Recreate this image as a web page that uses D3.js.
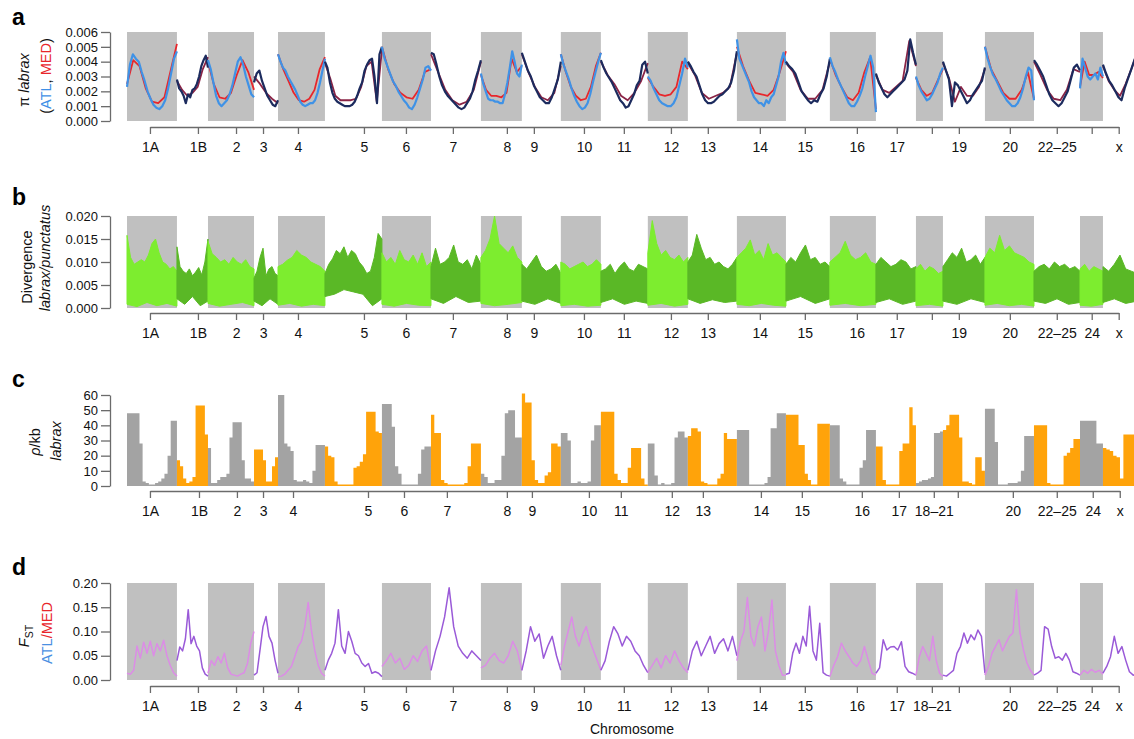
<!DOCTYPE html>
<html>
<head>
<meta charset="utf-8">
<script src="https://cdn.jsdelivr.net/npm/d3@7"></script>
<style>
  body { margin: 0; background: #fff; }
</style>
</head>
<body>
<div id="chart"></div>
<script>
// chromosomes in genome order, lengths in Mb (estimated)
const chroms = ["1A","1B","2","3","4","5","6","7","8","9","10","11","12","13","14","15","16","17","18–21","19","20","22–25","24","x"];
const chromLen = [33.3,20.7,30.7,16.0,31.3,38.0,32.7,33.3,27.3,26.0,26.7,31.3,26.7,32.7,32.7,29.3,30.7,26.7,18.0,28.0,32.7,30.7,15.3,22.7];

// tick positions along the genome (Mb) and labels
const ticksABD = [15.3,47.3,72.7,90.7,114.0,158.0,186.0,217.3,253.3,271.3,304.7,331.3,362.7,387.3,422.0,452.0,486.7,513.3,536.7,554.7,588.7,620.0,643.3,661.3];
const ticksC = [15.3,48.0,73.3,90.7,110.7,160.7,184.7,213.3,253.3,270.0,308.0,329.3,363.3,384.0,422.7,450.0,490.0,514.7,538.0,554.0,590.7,620.0,644.0,662.0];
const labelsA = ["1A","1B","2","3","4","5","6","7","8","9","10","11","12","13","14","15","16","17","","19","20","22–25","","x"];
const labelsB = ["1A","1B","2","3","4","5","6","7","8","9","10","11","12","13","14","15","16","17","","19","20","22–25","24","x"];
const labelsCD = ["1A","1B","2","3","4","5","6","7","8","9","10","11","12","13","14","15","16","17","18–21","","20","22–25","24","x"];

// a: nucleotide diversity, units of 1e-4, one list per chromosome
const piATL = [
  [23,38,45,42,40,33,27,20,15,11,9,8,10,14,22,32,42,47],
  [28,22,20,17,12,18,16,21,22,25,30,37,41,44,36],
  [41,35,26,17,12,10,12,14,18,24,32,40,43,38,30,24,18,16],
  [26,32,34,27,22,17,14,11,10,14],
  [45,40,36,34,30,27,24,21,17,13,11,10,11,12,12,14,19,26,34,42],
  [40,36,26,19,15,13,12,11,10,10,10,11,13,17,22,26,34,38,41,42,30,12,45,50],
  [50,42,37,32,27,24,20,17,14,12,9,8,11,16,22,28,36,37,34],
  [46,45,38,30,24,20,17,15,13,11,9,8,9,12,15,20,28,34,41],
  [32,25,20,15,14,14,13,13,12,12,18,26,36,47,40,32,30,38],
  [46,40,34,30,24,20,16,14,12,12,16,22,28,40],
  [45,38,33,28,22,17,13,10,8,9,12,18,26,33,40,46],
  [41,36,32,29,26,22,18,14,12,9,10,14,18,24,27,38,40,32],
  [30,27,22,18,14,12,11,10,10,12,16,24,32,42,36],
  [40,37,33,30,24,18,14,12,12,13,15,17,18,20,22,26,34,47],
  [55,42,38,34,30,26,20,16,14,12,12,10,14,12,16,18,24,30,40,46,38],
  [40,37,35,32,26,20,17,14,12,14,13,18,22,30,42],
  [43,37,33,28,24,20,16,12,10,10,13,17,22,30,37,44,36,6],
  [32,26,22,18,16,18,20,22,24,26,28,34,55,46,38],
  [30,24,20,17,14,15,18,22,26,32,36],
  [40,34,28,10,26,24,20,16,12,14,18,21,24,27,36],
  [50,42,36,31,28,24,20,17,14,12,10,10,12,16,22,30,36,34,14],
  [41,38,34,30,24,18,14,12,10,12,16,20,28,36,38,34],
  [22,42,36,30,28,30,32,28,36,30],
  [38,32,27,24,20,16,14,22,28,34,40,46]
];
const piMED = [
  [25,41,37,22,13,12,16,34,52],
  [27,21,17,19,23,35,43],
  [40,25,16,15,19,31,41,33,21],
  [30,25,19,15,12],
  [45,35,27,19,14,13,15,21,35,43],
  [39,29,17,14,14,14,15,23,37,40,13,48],
  [50,35,25,19,16,15,21,33,35],
  [45,33,21,14,11,13,21,40],
  [31,21,17,17,16,19,42,33,37],
  [45,33,23,16,14,19,37],
  [45,33,23,17,14,15,23,37,46],
  [40,31,25,17,14,19,27,39],
  [29,23,18,17,18,23,40,35],
  [39,31,19,15,17,19,23,46],
  [50,37,27,19,18,17,21,33,47],
  [39,33,21,15,15,21,40],
  [42,31,23,16,14,19,33,43,8],
  [31,21,19,23,27,54,37],
  [29,21,17,19,27,35],
  [39,29,13,23,17,17,23,35],
  [50,35,27,19,15,15,21,33,15],
  [40,31,21,15,14,21,35,33],
  [23,40,31,31,33,29],
  [37,27,21,17,25,35,46]
];

// b: divergence labrax/punctatus, upper and lower envelope, units of 1e-4
const divHigh = [
  [158,110,95,100,105,100,115,140,150,120,100,95,85,90,80],
  [133,90,80,75,85,70,78,88,72,100,150],
  [145,118,110,100,105,95,110,100,95,105,90,85],
  [65,80,110,130,70,85,90,75,70],
  [90,95,104,110,125,115,110,100,95,90,80],
  [75,95,107,125,118,133,110,125,118,100,90,75,80,110,162,150],
  [120,100,110,95,125,105,100,115,95,120,90,100],
  [90,130,95,100,110,137,100,95,105,85,115,95],
  [110,125,150,200,140,130,120,135,110,100],
  [95,85,100,115,90,80,85,95,75],
  [100,95,85,90,95,100,90,95,105,95],
  [80,85,95,75,90,100,85,80,95,90,85],
  [120,190,140,115,125,110,105,115,100,110],
  [100,115,160,130,105,110,95,100,90,85,95,110],
  [110,120,130,148,115,125,105,140,115,120,110,100],
  [95,110,100,120,137,105,110,95,100,90],
  [100,110,120,145,115,105,110,120,100,95],
  [95,110,100,90,95,105,100,85,90],
  [85,95,80,90,85,75,80],
  [90,105,120,110,130,100,105,115,95,110],
  [110,130,120,158,125,135,120,115,110,100,95],
  [80,90,95,85,100,90,95,85,90,80],
  [85,95,80,90,85,80],
  [90,80,95,115,85,80,75]
];
const divLow = [
  [8,3,12,5,10,4],[20,8,25,5,15],[10,4,8,12,5],[15,5,20,8],[6,10,4,8,5],
  [25,30,40,35,30,5,20],[8,4,10,6,5],[20,10,25,12,15],[10,5,8,12],[15,8,20,10],
  [5,8,4,6],[12,20,8,15,10],[6,10,4,8],[20,10,18,12,15],[8,5,10,6,4],
  [15,25,10,20],[6,10,5,8],[12,20,8,15],[5,8,4],[15,8,20,12],
  [6,10,5,8,4],[15,10,20,8,12],[6,4,8],[12,20,10,15]
];

// c: recombination rate rho/kb, equal-width steps per chromosome
const rhoKb = [
  [48,48,48,48,28,3,2,1,1,2,3,5,8,20,43,43],
  [17,13,5,2,3,6,53,53,53,34],
  [25,2,2,4,6,6,8,32,42,42,42,17,5,5,3],
  [24,24,24,17,3,3,13,19],
  [60,60,28,26,23,4,3,3,4,3,2,10,27,27,27],
  [26,20,19,3,1,1,1,1,1,12,13,16,21,49,49,49,36,35],
  [54,54,54,39,13,8,1,1,1,1,1,8,24,26,26],
  [47,35,35,4,2,1,1,1,1,1,2,13,28,28,28],
  [8,6,2,2,4,4,20,48,50,50,32,32],
  [61,55,55,17,4,2,2,7,9,28,28,26],
  [35,35,30,2,2,3,2,2,3,30,40,40],
  [49,49,49,49,8,4,2,2,12,25,25,25,5,1],
  [28,28,7,1,2,1,1,2,32,36,36,32],
  [33,38,38,36,3,2,1,1,1,5,8,35,31,31,31],
  [37,37,37,37,1,1,1,1,1,2,6,38,38,48,48,48],
  [47,47,47,47,27,27,8,4,1,1,41,41,41,41],
  [40,40,40,5,3,1,1,1,1,12,17,37,37,37],
  [26,26,4,1,1,1,1,23,28,28,52,40],
  [2,3,4,4,5,6,35,35,36],
  [37,40,47,47,47,32,3,3,2,1,19,19,10],
  [51,51,51,29,1,1,1,2,2,2,3,10,33,33,33],
  [40,40,40,40,2,1,1,1,1,20,22,25,31,31],
  [43,43,43,43,43,28,28],
  [25,24,23,20,19,5,34,34,34,34]
];

// d: FST ATL/MED, units of 1e-3
const fst = [
  [14,12,20,70,45,78,55,80,50,75,60,82,50,30,15,8],
  [40,68,60,85,145,75,90,70,60,25,12,8],
  [14,40,30,48,35,55,25,12,10,8,12,15,34,76,100],
  [10,15,62,110,131,90,76,41,14],
  [7,8,12,20,28,48,69,80,110,160,100,60,30,14,8],
  [20,41,55,76,145,70,55,100,80,55,50,35,28,34,14,17,14,7],
  [28,40,55,35,45,22,30,50,38,60,70,20],
  [20,60,90,130,190,110,70,55,45,60,50,40],
  [25,30,45,55,40,35,50,80,60,20],
  [20,60,110,80,95,45,70,90,50,20],
  [30,70,100,130,90,70,95,110,80,60,40,20],
  [20,40,80,110,95,70,90,80,60,50,30,15],
  [15,30,45,25,50,35,60,40,25,15],
  [20,60,80,50,70,90,55,75,85,60,90,50],
  [40,80,100,170,90,70,110,130,60,100,165,60,30,10,10],
  [12,14,55,76,55,90,70,152,60,41,117,15,10,8],
  [7,30,48,76,60,48,35,28,40,69,41,14,10],
  [14,25,83,62,68,69,62,79,28,17,14,10],
  [10,48,69,55,40,90,41,14,7],
  [10,8,14,20,55,69,97,76,93,83,103,90,14],
  [10,28,55,69,83,60,76,90,97,186,97,62,35,20,10],
  [10,14,20,110,105,69,45,48,41,55,41,17,14,10],
  [10,20,14,22,16,20,12],
  [14,28,48,90,55,69,41,17,10,12]
];

const W = 1134, H = 739;
const FONT = "'Liberation Sans', Arial, Helvetica, sans-serif";
const axisColor = "#6b6b6b";

const svg = d3.select("#chart").append("svg")
    .attr("width", W)
    .attr("height", H)
    .attr("font-family", FONT);

const starts = Array.from(d3.cumsum([0, ...chromLen]));
const x = d3.scaleLinear()
    .domain([0, d3.sum(chromLen)])
    .range([127, 1137]);

const shaded = i => i % 2 === 0;

// spread a chromosome's values evenly over its length
function spread(vals, i, k) {
    const n = vals.length, s = starts[i], len = chromLen[i];
    return vals.map((v, j) => [s + len * j / (n - 1), v * k]);
}

function addBands(y, top) {
    svg.append("g")
        .selectAll("rect")
        .data(chroms.map((c, i) => i).filter(shaded))
        .join("rect")
        .attr("x", i => x(starts[i]))
        .attr("width", i => x(starts[i + 1]) - x(starts[i]))
        .attr("y", y(top))
        .attr("height", y(0) - y(top))
        .attr("fill", "#c0c0c0");
}

function addYAxis(y, ticks, fmt) {
    const g = svg.append("g")
        .attr("transform", "translate(110,0)")
        .call(d3.axisLeft(y).tickValues(ticks).tickFormat(d3.format(fmt))
            .tickSize(9).tickSizeOuter(0).tickPadding(3));
    g.attr("font-size", 13).attr("font-family", FONT);
    g.selectAll("line, path").attr("stroke", axisColor).attr("stroke-width", 1.3);
    g.selectAll("text").attr("fill", "#111");
}

function addXAxis(yPos, ticks, labels) {
    const g = svg.append("g")
        .attr("transform", `translate(0,${yPos})`)
        .call(d3.axisBottom(x).tickValues(ticks).tickFormat((d, i) => labels[i])
            .tickSize(7).tickSizeOuter(0).tickPadding(8));
    g.attr("font-size", 14).attr("font-family", FONT);
    g.select(".domain").attr("d", `M${x(ticks[0]) + 0.5},0.5H${x(ticks[ticks.length - 1]) + 0.5}`);
    g.selectAll("line, path").attr("stroke", axisColor).attr("stroke-width", 1.3);
    g.selectAll("text").attr("fill", "#111");
}

function yLabel(xPos, yPos, parts) {
    const t = svg.append("text")
        .attr("transform", `translate(${xPos},${yPos}) rotate(-90)`)
        .attr("text-anchor", "middle")
        .attr("font-size", 14.5);
    parts.forEach(p => {
        const s = t.append("tspan").text(p.t).attr("fill", p.c || "#111");
        if (p.i) s.attr("font-style", "italic");
        if (p.sub) s.attr("font-size", 10.5).attr("dy", 4);
    });
}

function panelLetter(letter, yPos) {
    svg.append("text")
        .attr("x", 12).attr("y", yPos)
        .attr("font-size", 23).attr("font-weight", "bold")
        .attr("fill", "#000")
        .text(letter);
}

// ---------- panel a ----------
const ya = d3.scaleLinear().domain([0, 0.006]).range([121, 32]);
addBands(ya, 0.006);
const lineA = d3.line().x(d => x(d[0])).y(d => ya(d[1]));
piMED.forEach((v, i) => {
    svg.append("path")
        .attr("d", lineA(spread(v, i, 1e-4)))
        .attr("fill", "none")
        .attr("stroke", shaded(i) ? "#e8262b" : "#8a2446")
        .attr("stroke-width", 1.8)
        .attr("stroke-linejoin", "round");
});
piATL.forEach((v, i) => {
    svg.append("path")
        .attr("d", lineA(spread(v, i, 1e-4)))
        .attr("fill", "none")
        .attr("stroke", shaded(i) ? "#3f92e6" : "#1c2b5e")
        .attr("stroke-width", 2.2)
        .attr("stroke-linejoin", "round");
});
addYAxis(ya, d3.range(0, 0.0061, 0.001), ".3f");
addXAxis(127, ticksABD, labelsA);
panelLetter("a", 25);
yLabel(29, 80, [{t: "π "}, {t: "labrax", i: true}]);
yLabel(51, 76, [{t: "("}, {t: "ATL", c: "#3f8fe6"}, {t: ", "}, {t: "MED", c: "#e8262b"}, {t: ")"}]);

// ---------- panel b ----------
const yb = d3.scaleLinear().domain([0, 0.02]).range([308, 216]);
addBands(yb, 0.02);
divHigh.forEach((hi, i) => {
    const top = spread(hi, i, 1e-4);
    const bot = spread(divLow[i], i, 1e-4);
    const col = shaded(i) ? "#7ded2f" : "#5ab826";
    const pts = top.concat(bot.slice().reverse());
    svg.append("path")
        .attr("d", "M" + pts.map(p => `${x(p[0])},${yb(p[1])}`).join("L") + "Z")
        .attr("fill", col)
        .attr("stroke", col)
        .attr("stroke-width", 1)
        .attr("stroke-linejoin", "round");
});
addYAxis(yb, [0, 0.005, 0.01, 0.015, 0.02], ".3f");
addXAxis(313, ticksABD, labelsB);
panelLetter("b", 205);
yLabel(32, 267, [{t: "Divergence"}]);
yLabel(50, 258, [{t: "labrax/punctatus", i: true}]);

// ---------- panel c ----------
const yc = d3.scaleLinear().domain([0, 60]).range([486, 395]);
const areaC = d3.area().curve(d3.curveStepAfter)
    .x(d => x(d[0])).y0(yc(0)).y1(d => yc(d[1]));
rhoKb.forEach((v, i) => {
    const w = chromLen[i] / v.length;
    const pts = v.map((r, j) => [starts[i] + j * w, r]);
    pts.push([starts[i + 1], v[v.length - 1]]);
    svg.append("path")
        .attr("d", areaC(pts))
        .attr("fill", shaded(i) ? "#a3a3a3" : "#ffa30a");
});
addYAxis(yc, d3.range(0, 61, 10), "d");
addXAxis(491, ticksC, labelsCD);
panelLetter("c", 387);
yLabel(40, 442, [{t: "ρ", i: true}, {t: "/kb"}]);
yLabel(61, 441, [{t: "labrax", i: true}]);

// ---------- panel d ----------
const yd = d3.scaleLinear().domain([0, 0.2]).range([680, 583]);
addBands(yd, 0.2);
const lineD = d3.line().x(d => x(d[0])).y(d => yd(d[1]));
fst.forEach((v, i) => {
    svg.append("path")
        .attr("d", lineD(spread(v, i, 1e-3)))
        .attr("fill", "none")
        .attr("stroke", shaded(i) ? "#dc8ce6" : "#9a5ad8")
        .attr("stroke-width", 1.5)
        .attr("stroke-linejoin", "round");
});
addYAxis(yd, [0, 0.05, 0.1, 0.15, 0.2], ".2f");
addXAxis(686, ticksABD, labelsCD);
panelLetter("d", 575);
yLabel(29, 636, [{t: "F", i: true}, {t: "ST", sub: true}]);
yLabel(52, 633, [{t: "ATL", c: "#4a90e2"}, {t: "/MED", c: "#e8262b"}]);

svg.append("text")
    .attr("x", 632).attr("y", 734)
    .attr("text-anchor", "middle")
    .attr("font-size", 14)
    .attr("fill", "#111")
    .text("Chromosome");
</script>
</body>
</html>
